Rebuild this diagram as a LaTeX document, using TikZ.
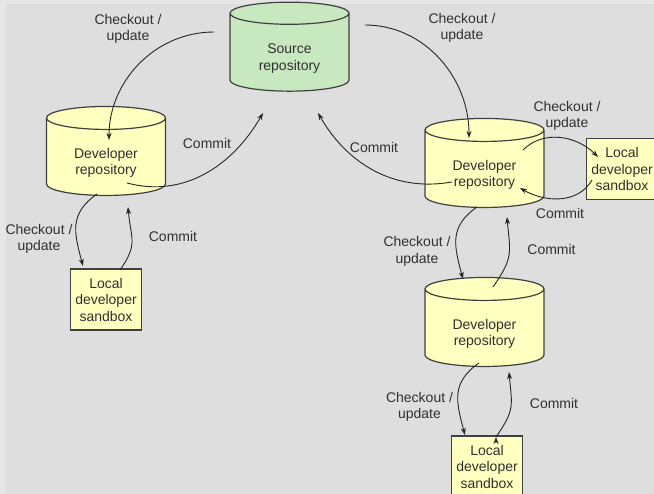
\documentclass[tikz,border=0pt]{standalone}
\usepackage{fontspec}
\setmainfont{Liberation Sans}
\usetikzlibrary{shapes.geometric, positioning, arrows.meta}
\definecolor{bgouter}{HTML}{E6E6E6}
\definecolor{bginner}{HTML}{DEDEDE}
\definecolor{repoyellow}{HTML}{FFFFC0}
\definecolor{repogreen}{HTML}{C8E8C0}
\definecolor{outline}{HTML}{404040}
\definecolor{labeltext}{HTML}{303030}
\newcommand{\repotext}[1]{\raisebox{-6pt}[\height][\depth]{\begin{tabular}{@{}c@{}}#1\end{tabular}}}
\tikzset{
>={Stealth[length=7pt, width=5pt, inset=2pt]}, % makes the arrow heads bold
x=1pt, y=1pt, % one unit is one pixel of the sketch
every node/.style={font=\fontsize{14}{16.5}\selectfont, text=labeltext},
repo/.style={cylinder, shape border rotate=90, aspect=0.36, draw=outline, line width=1.2pt, minimum width=119pt, minimum height=89pt, inner sep=0pt, align=center, fill=repoyellow}, % repositories
sandbox/.style={rectangle, draw=outline, line width=1.2pt, fill=repoyellow, minimum width=71pt, minimum height=61pt, inner sep=0pt, align=center}, % local copies
lbl/.style={align=center, inner sep=0pt}, % text on the connectors
flow/.style={->, line width=0.9pt, black!85}, % checkout and commit arrows
}
\begin{document}
\begin{tikzpicture}
    \fill[bgouter] (0,0) rectangle (654,-494);
    \fill[bginner] (6,-4) rectangle (654,-494);
    \clip (0,0) rectangle (654,-494);

    \node[repo, fill=repogreen] (src) at (289.5,-52.5) {\repotext{Source\\repository}};
    \node[repo] (devl) at (106,-157) {\repotext{Developer\\repository}};
    \node[repo] (devr) at (484.5,-169) {\repotext{Developer\\repository}};
    \node[repo, below of=devr, node distance=159pt] (devm) {\repotext{Developer\\repository}};
    \node[sandbox, below of=devl, node distance=142.5pt] (boxl) {Local\\developer\\sandbox};
    \node[sandbox, right of=devr, node distance=137.5pt] (boxr) {Local\\developer\\sandbox};
    \node[sandbox, below of=devm, node distance=138.5pt, xshift=2.5pt] (boxm) {Local\\developer\\sandbox};

    \draw[flow]
    ([shift={(-75.5,20.5)}]src.center) edge[out=180, in=90] ([shift={(3,17)}]devl.center)
    ([shift={(21,-26)}]devl.center) edge[out=-15, in=-120] ([shift={(-26.5,-60.5)}]src.center)
    ([shift={(75.5,27.5)}]src.center) edge[out=0, in=90] ([shift={(-15.5,31)}]devr.center)
    ([shift={(-32.5,-13)}]devr.center) edge[out=190, in=-60] ([shift={(28.5,-60.5)}]src.center)
    ([shift={(38.5,19)}]devr.center) edge[out=45, in=135] ([shift={(-24,12)}]boxr.center)
    ([shift={(-30,-11)}]boxr.center) edge[out=-120, in=-30] ([shift={(35.5,-19)}]devr.center)
    ([shift={(-9,-37)}]devl.center) edge[out=-145, in=105, looseness=1.2] ([shift={(-23,33.5)}]boxl.center)
    ([shift={(14,29.5)}]boxl.center) edge[out=55, in=-85, looseness=1.3] ([shift={(22,-50)}]devl.center)
    ([shift={(-7.5,-38)}]devr.center) edge[out=-145, in=105, looseness=1.2] ([shift={(-21.5,49)}]devm.center)
    ([shift={(8.5,41)}]devm.center) edge[out=55, in=-85, looseness=1.3] ([shift={(22.5,-48)}]devr.center)
    ([shift={(-5.5,-35)}]devm.center) edge[out=-145, in=105, looseness=1.2] ([shift={(-22,31.5)}]boxm.center)
    ([shift={(9,29.5)}]boxm.center) edge[out=55, in=-85, looseness=1.3] ([shift={(24.5,-44)}]devm.center);

    \node[lbl] (co1) at (128,-29) {Checkout /\\update};
    \node[lbl] (cm1) at (207,-143) {Commit};
    \node[lbl] (co2) at (462,-28) {Checkout /\\update};
    \node[lbl] (cm2) at (374,-147) {Commit};
    \node[lbl] (co3) at (567,-116) {Checkout /\\update};
    \node[lbl] (cm3) at (560,-213) {Commit};
    \node[lbl] (co4) at (39,-239) {Checkout /\\update};
    \node[lbl] (cm4) at (173,-236) {Commit};
    \node[lbl] (co5) at (417,-251.5) {Checkout /\\update};
    \node[lbl] (cm5) at (551.5,-249) {Commit};
    \node[lbl] (co6) at (419.5,-407) {Checkout /\\update};
    \node[lbl] (cm6) at (554,-403) {Commit};
\end{tikzpicture}
\end{document}
